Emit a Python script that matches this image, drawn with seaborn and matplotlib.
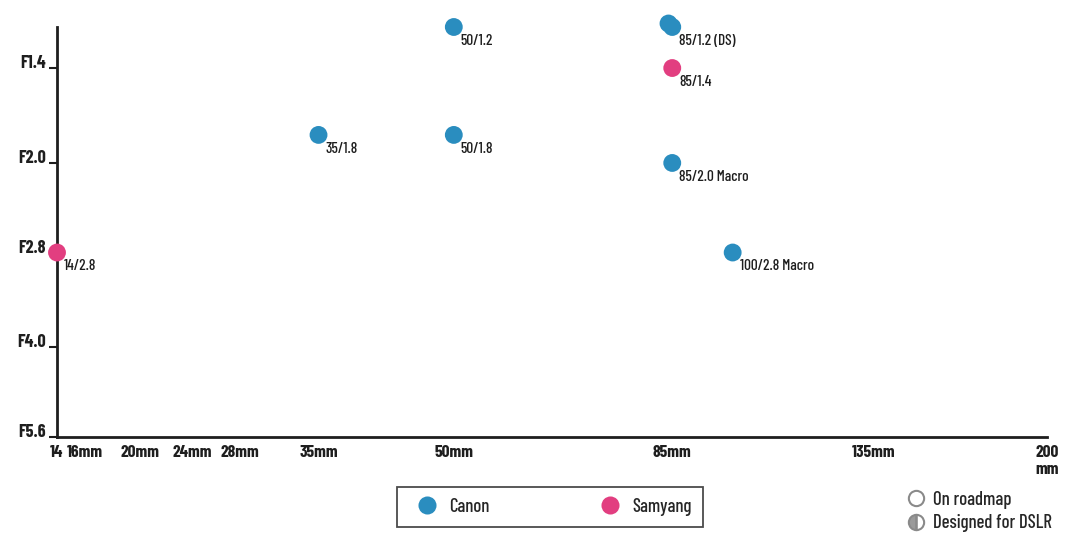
import numpy as np
import pandas as pd
import seaborn as sns
import matplotlib.pyplot as plt
import matplotlib.transforms as mtransforms
from matplotlib.lines import Line2D

# lens data: focal length (mm), max aperture, brand
brand = ['Samyang', 'Canon', 'Canon', 'Canon', 'Canon', 'Canon', 'Samyang', 'Canon', 'Canon']
focal = [14, 35, 50, 50, 85, 85, 85, 85, 100]
aperture = [2.8, 1.8, 1.2, 1.8, 1.2, 1.2, 1.4, 2.0, 2.8]
names = ['14/2.8', '35/1.8', '50/1.2', '50/1.8', '', '85/1.2 (DS)', '85/1.4',
         '85/2.0 Macro', '100/2.8 Macro']

x_ticks = [14, 16, 20, 24, 28, 35, 50, 85, 135, 200]
x_labels = ['14', '16mm', '20mm', '24mm', '28mm', '35mm', '50mm', '85mm', '135mm', '200\nmm']
y_ticks = [1.4, 2.0, 2.8, 4.0, 5.6]
y_labels = ['F1.4', 'F2.0', 'F2.8', 'F4.0', 'F5.6']

df = pd.DataFrame({'brand': brand, 'focal': focal, 'aperture': aperture, 'name': names})
colors = {'Canon': '#2a8dbf', 'Samyang': '#e23e80'}
ink = '#1e1e1e'

sns.set_style('white')
plt.rcParams['font.family'] = ['Barlow Condensed', 'DejaVu Sans']

fig = plt.figure(figsize=(10.8, 5.51), dpi=100)
ax = fig.add_axes([57 / 1080, 114 / 551, 990 / 1080, 410 / 551])

# the focal axis in the original is hand spaced, rebuild it as a piecewise scale
scale_mm = np.array(x_ticks, dtype=float)
scale_pos = np.array([0, 28, 83, 135, 183, 261, 396, 614, 815, 988], dtype=float)
ax.set_xscale('function', functions=(lambda v: np.interp(v, scale_mm, scale_pos),
                                     lambda p: np.interp(p, scale_pos, scale_mm)))
ax.set_yscale('log')

# unlabeled duplicate (85/1.2) sits just behind its twin, nudged up-left
dup = df[df['name'] == '']
nudge = ax.transData + mtransforms.ScaledTranslation(-3 / 72, 3 / 72, fig.dpi_scale_trans)
ax.scatter(dup['focal'], dup['aperture'], s=165, c=[colors[b] for b in dup['brand']],
           linewidths=0, transform=nudge, clip_on=False, zorder=2)

sns.scatterplot(data=df[df['name'] != ''], x='focal', y='aperture', hue='brand',
                palette=colors, s=165, linewidth=0, legend=False, ax=ax,
                clip_on=False, zorder=3)

for _, r in df.iterrows():
    if r['name']:
        ax.annotate(r['name'], (r['focal'], r['aperture']), xytext=(5, -5),
                    textcoords='offset points', ha='left', va='top', fontsize=11,
                    fontweight=500, color=ink)

ax.set_xlim(14, 201)
ax.set_ylim(5.6, 1.2)
ax.set_xticks(x_ticks)
ax.set_xticklabels(x_labels, fontweight='bold', fontsize=12.5, color=ink, linespacing=1.1)
ax.set_yticks(y_ticks)
ax.set_yticklabels(y_labels, fontweight='bold', fontsize=13, color=ink, va='baseline')
ax.yaxis.set_minor_locator(plt.NullLocator())
ax.xaxis.set_minor_locator(plt.NullLocator())
ax.tick_params(axis='x', length=0, pad=6)
ax.tick_params(axis='y', length=6, width=1.5, color=ink, pad=2, left=True)
ax.set_xlabel('')
ax.set_ylabel('')
for s in ['top', 'right']:
    ax.spines[s].set_visible(False)
for s in ['left', 'bottom']:
    ax.spines[s].set_linewidth(2)
    ax.spines[s].set_color(ink)

brand_handles = [Line2D([], [], marker='o', linestyle='', markersize=13,
                        markerfacecolor=colors[b], markeredgewidth=0) for b in colors]
leg = fig.legend(brand_handles, list(colors), loc='center', bbox_to_anchor=(0.509, 0.080),
                 ncol=2, frameon=True, fancybox=False, edgecolor=ink,
                 columnspacing=5.4, handletextpad=0.2, borderpad=0.6, fontsize=13.5)
leg.get_frame().set_linewidth(1.3)
for t in leg.get_texts():
    t.set_fontweight(500)

status_handles = [
    Line2D([], [], marker='o', linestyle='', markersize=11, markerfacecolor='white',
           markeredgecolor='#8a8a8a', markeredgewidth=1.5),
    Line2D([], [], marker='o', linestyle='', markersize=11, fillstyle='left',
           markerfacecolor='#9a9a9a', markeredgecolor='#8a8a8a', markeredgewidth=1.5),
]
leg2 = fig.legend(status_handles, ['On roadmap', 'Designed for DSLR'], loc='upper left',
                  bbox_to_anchor=(0.822, 0.140), frameon=False, handletextpad=0.3,
                  labelspacing=0.3, fontsize=13.5, handlelength=1.2)
for t in leg2.get_texts():
    t.set_fontweight(500)

fig.savefig('out.png', dpi=100)
